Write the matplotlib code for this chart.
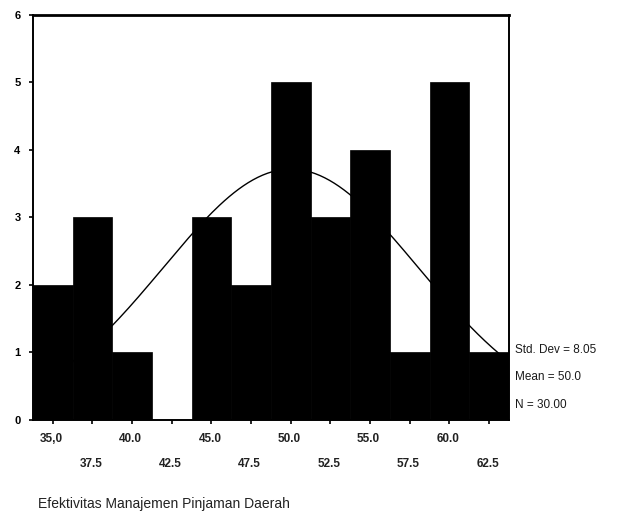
import numpy as np
import matplotlib
matplotlib.use("Agg")
import matplotlib.pyplot as plt

# Histogram of the 30 scores (bin width 2.5)
bin_centers = [35.0, 37.5, 40.0, 42.5, 45.0, 47.5, 50.0, 52.5, 55.0, 57.5, 60.0, 62.5]
counts = [2, 3, 1, 0, 3, 2, 5, 3, 4, 1, 5, 1]
tick_labels = ["35,0", "37.5", "40.0", "42.5", "45.0", "47.5",
               "50.0", "52.5", "55.0", "57.5", "60.0", "62.5"]
std_dev = 8.05
mean = 50.0
n_total = 30.00
bin_width = 2.5

fig = plt.figure(figsize=(6.21, 5.20), dpi=100)
ax = fig.add_axes([0.0531, 0.1923, 0.7665, 0.7789])

ax.bar(bin_centers, counts, width=bin_width, color="black", edgecolor="black",
       linewidth=0.5, zorder=2)

# Fitted normal curve scaled to counts
xs = np.linspace(bin_centers[0] - bin_width / 2, bin_centers[-1] + bin_width / 2, 200)
ys = n_total * bin_width / (std_dev * np.sqrt(2 * np.pi)) * np.exp(-0.5 * ((xs - mean) / std_dev) ** 2)
ax.plot(xs, ys, color="black", linewidth=1.0, zorder=3)

ax.set_xlim(bin_centers[0] - bin_width / 2, bin_centers[-1] + bin_width / 2)
ax.set_ylim(0, 6)
ax.set_yticks(range(0, 7))
ax.set_yticklabels([str(i) for i in range(0, 7)], fontsize=8, fontweight="bold",
                   family="Liberation Sans")

ax.set_xticks(bin_centers)
ax.set_xticklabels([])
ax.tick_params(axis="x", length=3, width=1.2, direction="out")
ax.tick_params(axis="y", length=3, width=1.2, direction="out", pad=6)

# Staggered bin labels under the axis
for i, (c, lab) in enumerate(zip(bin_centers, tick_labels)):
    y = -0.28 if i % 2 == 0 else -0.65
    ax.text(c - 0.1, y, lab, ha="center", va="center", fontsize=8.5,
            family="Liberation Sans", fontweight="bold", color="#222222")

for side in ["top", "left", "right", "bottom"]:
    ax.spines[side].set_linewidth(1.4)
ax.spines["top"].set_linewidth(2.0)

# Summary statistics beside the plot
stats = [f"Std. Dev = {std_dev:.2f}", f"Mean = {mean:.1f}", f"N = {n_total:.2f}"]
for k, s in enumerate(stats):
    ax.text(1.012, 0.172 - k * 0.067, s, transform=ax.transAxes, ha="left",
            va="center", fontsize=8.5, family="Liberation Sans", color="#1a1a1a")

fig.text(0.061, 0.030, "Efektivitas Manajemen Pinjaman Daerah", ha="left",
         va="center", fontsize=10, family="Liberation Sans", color="#222222")

fig.savefig("out.png", dpi=100)
